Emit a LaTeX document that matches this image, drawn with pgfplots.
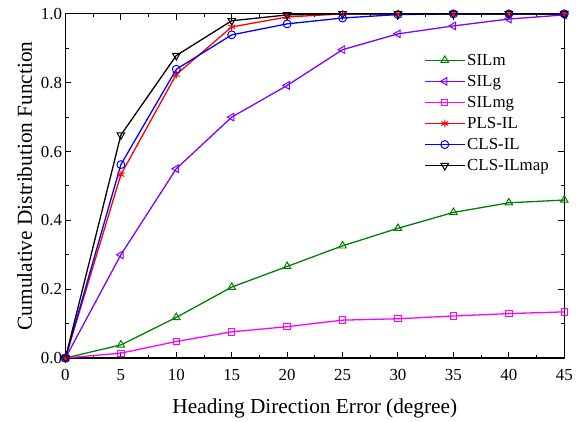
\documentclass[border=0pt]{standalone}
\usepackage{pgfplots}
\pgfplotsset{compat=1.18}
\usepackage{fontspec}
\setmainfont{Liberation Serif}
\definecolor{cgreen}{RGB}{0,128,0}
\definecolor{cviolet}{RGB}{128,0,255}
\definecolor{cmag}{RGB}{255,0,255}
\begin{document}
\begin{tikzpicture}[x=1pt,y=1pt]
\begin{axis}[
  scale only axis,
  width=503pt, height=347pt,
  xmin=0, xmax=45, ymin=0, ymax=1,
  xtick={0,5,...,45},
  ytick={0,0.2,0.4,0.6,0.8,1.0},
  minor x tick num=1, minor y tick num=1,
  tick align=inside,
  major tick length=6pt, minor tick length=3.5pt,
  axis line style={line width=1.2pt},
  every tick/.style={black, line width=1pt},
  /pgf/number format/assume math mode=true,
  yticklabel style={/pgf/number format/.cd, fixed, fixed zerofill, precision=1},
  ticklabel style={font=\fontsize{17}{19}\selectfont},
  xticklabel style={yshift=-8pt},
  xlabel={Heading Direction Error (degree)},
  ylabel={Cumulative Distribution Function},
  label style={font=\fontsize{21.5}{24}\selectfont},
  xlabel style={at={(axis description cs:0.5,0)}, anchor=base, yshift=-56pt},
  ylabel style={yshift=2pt},
  legend style={draw=none, fill=none, at={(0.719,0.89)}, anchor=north west,
    font=\fontsize{17}{19}\selectfont, row sep=4.5pt, inner sep=0pt},
  legend cell align=left,
  legend image code/.code={\draw[mark repeat=2,mark phase=2,#1] plot coordinates {(0pt,0pt)(20pt,0pt)(40pt,0pt)};},
  every axis plot/.append style={line width=1.3pt, mark size=4pt},
  clip=false,
]
\addplot[cgreen, mark=triangle, mark options={line width=1pt, scale=1.1}] coordinates {
(0,0.0)(5,0.038)(10,0.118)(15,0.206)(20,0.266)(25,0.326)(30,0.377)(35,0.423)(40,0.451)(45,0.459)};
\addlegendentry{SILm}
\addplot[cviolet, mark=triangle, mark options={rotate=90, line width=1pt, scale=1.1}] coordinates {
(0,0.0)(5,0.300)(10,0.550)(15,0.700)(20,0.792)(25,0.896)(30,0.942)(35,0.965)(40,0.985)(45,0.997)};
\addlegendentry{SILg}
\addplot[cmag, mark=square, mark options={line width=1pt, scale=0.8}] coordinates {
(0,0.0)(5,0.014)(10,0.048)(15,0.076)(20,0.091)(25,0.110)(30,0.114)(35,0.122)(40,0.129)(45,0.134)};
\addlegendentry{SILmg}
\addplot[red, mark=asterisk, mark options={line width=1pt}] coordinates {
(0,0.0)(5,0.533)(10,0.824)(15,0.962)(20,0.991)(25,1.0)(30,1.0)(35,1.0)(40,1.0)(45,1.0)};
\addlegendentry{PLS-IL}
\addplot[blue, mark=o, mark options={line width=1pt}] coordinates {
(0,0.0)(5,0.562)(10,0.839)(15,0.939)(20,0.971)(25,0.988)(30,0.998)(35,1.0)(40,1.0)(45,1.0)};
\addlegendentry{CLS-IL}
\addplot[black, mark=triangle, mark options={rotate=180, line width=1pt, scale=1.1}] coordinates {
(0,0.0)(5,0.648)(10,0.879)(15,0.980)(20,0.997)(25,1.0)(30,1.0)(35,1.0)(40,1.0)(45,1.0)};
\addlegendentry{CLS-ILmap}
\end{axis}
\useasboundingbox ([xshift=-66pt,yshift=-64pt]current axis.south west) rectangle ([xshift=7pt,yshift=14pt]current axis.north east);
\end{tikzpicture}
\end{document}
